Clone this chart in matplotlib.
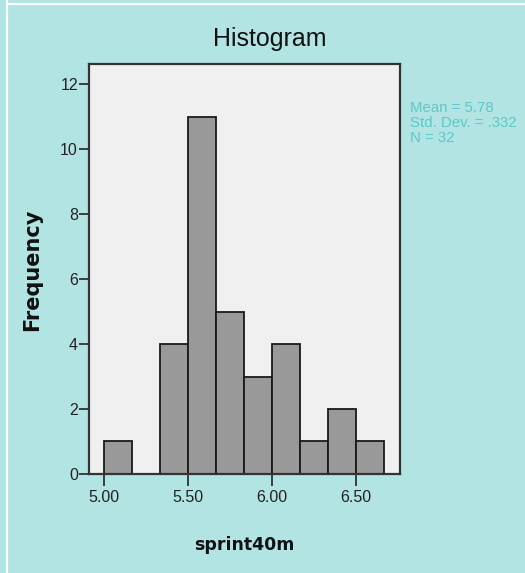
import matplotlib
matplotlib.use("Agg")
import matplotlib.pyplot as plt
from matplotlib.lines import Line2D

# histogram of sprint40m (SPSS style)
bin_edges = [5.000, 5.167, 5.333, 5.500, 5.667, 5.833, 6.000, 6.167, 6.333, 6.500, 6.667]
counts = [1, 0, 4, 11, 5, 3, 4, 1, 2, 1]
x_ticks = [5.00, 5.50, 6.00, 6.50]
x_labels = ['5.00', '5.50', '6.00', '6.50']
y_ticks = [0, 2, 4, 6, 8, 10, 12]
stats_lines = ['Mean = 5.78', 'Std. Dev. = .332', 'N = 32']

bg = '#b2e4e4'
fig = plt.figure(figsize=(5.25, 5.73), dpi=100, facecolor=bg)
ax = fig.add_axes([0.1695, 0.1728, 0.5924, 0.7155])
ax.set_facecolor('#f0f0f0')

lefts = bin_edges[:-1]
widths = [bin_edges[i + 1] - bin_edges[i] for i in range(len(counts))]
ax.bar(lefts, counts, width=widths, align='edge', color='#999999',
       edgecolor='#1a1a1a', linewidth=1.3)

ax.set_xlim(4.909, 6.760)
ax.set_ylim(0, 12.62)
ax.set_xticks(x_ticks)
ax.set_xticklabels(x_labels)
ax.set_yticks(y_ticks)
for s in ax.spines.values():
    s.set_color('#333333')
    s.set_linewidth(1.6)
ax.tick_params(axis='x', length=8.5, width=1.2, pad=3, labelsize=11.5,
               colors='#222222')
ax.tick_params(axis='y', length=7, width=1.2, pad=1, labelsize=11.5,
               colors='#222222')
for lab in ax.get_xticklabels() + ax.get_yticklabels():
    lab.set_fontfamily('Liberation Sans')

fig.text(270 / 525, 1 - 39 / 573, 'Histogram', ha='center', va='center',
         fontsize=18, family='Liberation Sans', color='#111111')
fig.text(32 / 525, 1 - 270 / 573, 'Frequency', ha='center', va='center',
         rotation=90, fontsize=15, fontweight='bold', family='DejaVu Sans',
         color='#111111')
fig.text(244 / 525, 1 - 545 / 573, 'sprint40m', ha='center', va='center',
         fontsize=12.5, fontweight='bold', family='DejaVu Sans',
         color='#111111')

for i, line in enumerate(stats_lines):
    fig.text(410 / 525, 1 - (108 + 15 * i) / 573, line, ha='left',
             va='center', fontsize=10.8, family='Liberation Sans',
             color='#5ec8c8')

# thin white border lines of the window
fig.add_artist(Line2D([6.5 / 525, 6.5 / 525], [0, 1], color='white',
                      linewidth=1.5, transform=fig.transFigure))
fig.add_artist(Line2D([8 / 525, 1], [1 - 3.5 / 573, 1 - 3.5 / 573],
                      color='white', linewidth=1.5, transform=fig.transFigure))

fig.savefig('out.png', dpi=100, facecolor=bg)
